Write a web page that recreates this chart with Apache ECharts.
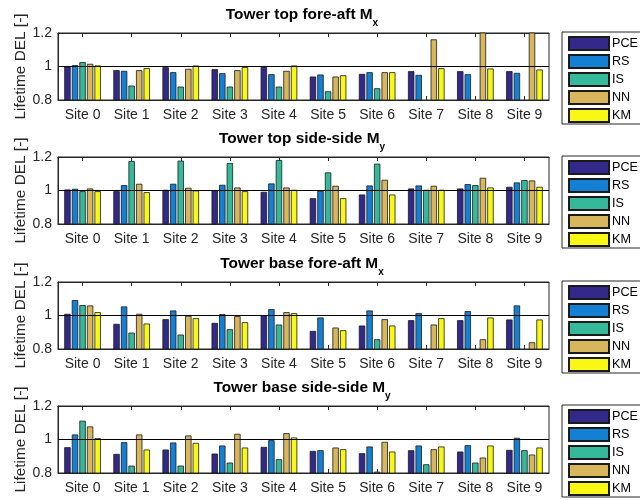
<!DOCTYPE html>
<html><head><meta charset="utf-8">
<script src="https://cdn.jsdelivr.net/npm/echarts@6/dist/echarts.min.js"></script>
<style>html,body{margin:0;padding:0;background:#fff}#c{width:640px;height:500px}</style>
</head><body><div id="c"></div>
<script>
const sites = ['Site 0','Site 1','Site 2','Site 3','Site 4','Site 5','Site 6','Site 7','Site 8','Site 9'];
const methods = ['PCE','RS','IS','NN','KM'];
const panelTitles = ['Tower top fore-aft M','Tower top side-side M','Tower base fore-aft M','Tower base side-side M'];
const panelSubs = ['x','y','x','y'];
const yAxisTitle = 'Lifetime DEL [-]';

// Tower top fore-aft Mx
const tfaPCE = [1.000,0.978,0.996,0.984,0.998,0.940,0.956,0.972,0.972,0.972];
const tfaRS  = [1.008,0.974,0.966,0.960,0.954,0.952,0.966,0.950,0.954,0.962];
const tfaIS  = [1.026,0.886,0.880,0.880,0.880,0.852,0.870,null,null,null];
const tfaNN  = [1.016,0.978,0.986,0.978,0.974,0.940,0.966,1.162,1.300,1.300];
const tfaKM  = [1.006,0.990,1.006,0.996,1.006,0.948,0.966,0.990,0.988,0.982];
// Tower top side-side My
const tssPCE = [1.006,0.996,1.004,1.002,0.992,0.954,0.976,1.012,1.012,1.022];
const tssRS  = [1.010,1.032,1.040,1.034,1.042,0.998,1.030,1.030,1.038,1.048];
const tssIS  = [0.996,1.176,1.178,1.164,1.182,1.108,1.160,1.004,1.032,1.062];
const tssNN  = [1.012,1.040,1.016,1.018,1.018,1.028,1.064,1.028,1.076,1.060];
const tssKM  = [0.996,0.990,1.000,0.996,1.004,0.954,0.976,1.004,1.018,1.022];
// Tower base fore-aft Mx
const bfaPCE = [1.010,0.950,0.978,0.956,1.002,0.908,0.940,0.972,0.972,0.976];
const bfaRS  = [1.092,1.054,1.030,1.008,1.038,0.988,1.030,1.014,1.026,1.060];
const bfaIS  = [1.062,0.898,0.886,0.918,0.946,null,0.858,null,null,null];
const bfaNN  = [1.060,1.010,0.998,0.996,1.020,0.928,0.978,0.946,0.858,0.840];
const bfaKM  = [1.020,0.952,0.984,0.960,1.014,0.912,0.940,0.984,0.988,0.976];
// Tower base side-side My
const bssPCE = [0.954,0.914,0.940,0.916,0.956,0.932,0.918,0.936,0.928,0.938];
const bssRS  = [1.030,0.984,0.982,0.964,0.996,0.936,0.958,0.964,0.966,1.010];
const bssIS  = [1.112,0.844,0.844,0.862,0.882,null,0.808,0.852,0.862,0.936];
const bssNN  = [1.078,1.030,1.024,1.034,1.038,0.952,0.986,0.942,0.892,0.910];
const bssKM  = [1.008,0.940,0.980,0.952,1.012,0.942,0.928,0.958,0.964,0.952];

const panels = [
  [tfaPCE, tfaRS, tfaIS, tfaNN, tfaKM],
  [tssPCE, tssRS, tssIS, tssNN, tssKM],
  [bfaPCE, bfaRS, bfaIS, bfaNN, bfaKM],
  [bssPCE, bssRS, bssIS, bssNN, bssKM]
];

const colors = ['#33298a','#1480d4','#36b99a','#d8b65c','#f8f814'];
const FONT = '"Liberation Sans", Arial, sans-serif';
const gridTops = [33, 157, 282, 406];
const gridH = [67, 67, 67, 67];

const grid = [], xAxis = [], yAxis = [], series = [], legend = [], title = [], graphic = [];
panels.forEach((p, i) => {
  grid.push({left: 58, width: 491, top: gridTops[i], height: gridH[i], show: true,
    borderColor: '#262626', borderWidth: 1, backgroundColor: '#fff', containLabel: false});
  xAxis.push({type: 'category', gridIndex: i, data: sites, position: 'bottom',
    axisLine: {lineStyle: {color: '#262626', width: 1}},
    axisTick: {show: true, inside: true, alignWithLabel: true, length: 4, lineStyle: {color: '#262626'}},
    axisLabel: {color: '#262626', fontFamily: FONT, fontSize: 14, margin: 8, interval: 0}});
  xAxis.push({type: 'category', gridIndex: i, data: sites, position: 'top',
    axisLine: {lineStyle: {color: '#262626', width: 1}},
    axisTick: {show: true, inside: true, alignWithLabel: true, length: 4, lineStyle: {color: '#262626'}},
    axisLabel: {show: false}});
  yAxis.push({type: 'value', gridIndex: i, min: 0.8, max: 1.2, interval: 0.2,
    axisLine: {show: true, lineStyle: {color: '#262626'}},
    axisTick: {show: true, inside: true, length: 4, lineStyle: {color: '#262626'}},
    splitLine: {show: false},
    axisLabel: {color: '#262626', fontFamily: FONT, fontSize: 14, margin: 6,
      formatter: v => (Math.abs(v - 1) < 1e-9 ? '1' : v.toFixed(1))}});
  graphic.push({type: 'text', x: 21, y: gridTops[i] + gridH[i] / 2, rotation: Math.PI / 2, silent: true,
    style: {text: yAxisTitle, fill: '#262626', font: '15.4px ' + FONT, textAlign: 'center', textVerticalAlign: 'middle'}});
  p.forEach((arr, j) => {
    const s = {name: methods[j], type: 'bar', xAxisIndex: i * 2, yAxisIndex: i,
      data: arr, barWidth: 6.4, barGap: '18%', barCategoryGap: '20%', clip: true,
      itemStyle: {color: colors[j], borderColor: '#1a1a1a', borderWidth: 0.8},
      animation: false};
    if (j === 0) {
      s.markLine = {silent: true, symbol: 'none', label: {show: false},
        lineStyle: {color: '#000', type: 'solid', width: 1}, data: [{yAxis: 1}], animation: false, z: 10};
    }
    series.push(s);
  });
  legend.push({data: methods, orient: 'vertical', left: 562, top: gridTops[i] - 1,
    itemWidth: 40, itemHeight: 13, itemGap: 3, icon: 'rect',
    padding: [4, 40, 1, 6], borderColor: '#262626', borderWidth: 1, backgroundColor: '#fff',
    selectedMode: false,
    textStyle: {color: '#000', fontFamily: FONT, fontSize: 12.6, padding: [0, 0, 0, -2]}});
  title.push({text: '{a|' + panelTitles[i] + '}{s|' + panelSubs[i] + '}',
    left: 302, textAlign: 'center', top: gridTops[i] - 26, padding: 0,
    textStyle: {rich: {
      a: {fontFamily: FONT, fontSize: 15.4, fontWeight: 'bold', color: '#000', lineHeight: 18, verticalAlign: 'top'},
      s: {fontFamily: FONT, fontSize: 10, color: '#000', lineHeight: 11, padding: [11, 0, 0, 0], verticalAlign: 'top'}
    }}});
});

const chart = echarts.init(document.getElementById('c'), null, {renderer: 'canvas'});
chart.setOption({animation: false, backgroundColor: '#fff', title, grid, xAxis, yAxis, series, legend, graphic});
</script></body></html>
